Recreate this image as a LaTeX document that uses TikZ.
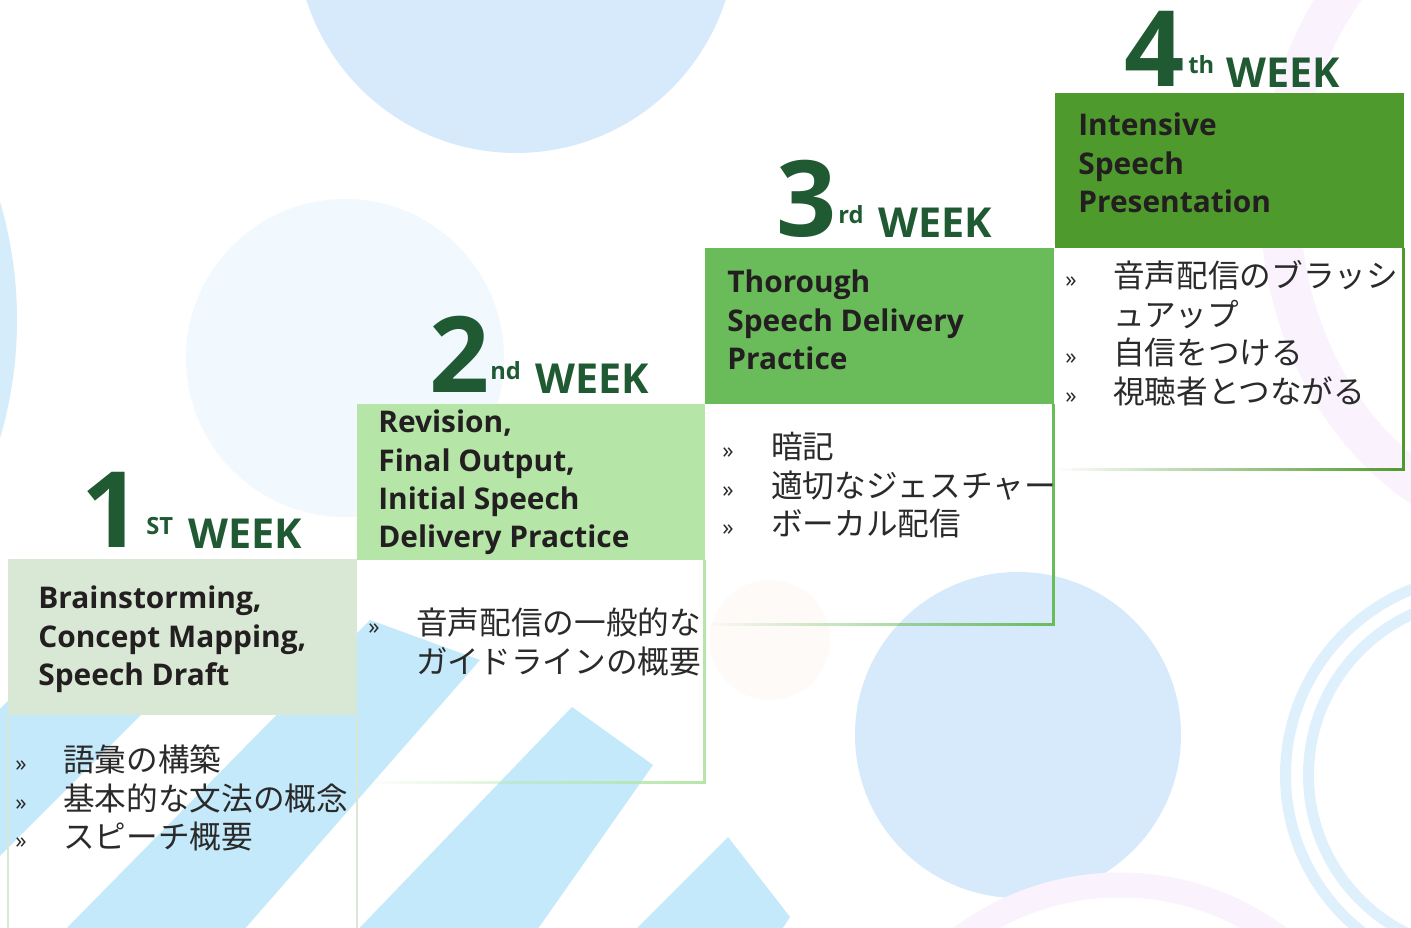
\documentclass[tikz,border=0pt]{standalone}
\usepackage{fontspec}
\usetikzlibrary{positioning,fadings}
\setmainfont{Open Sans}
\newfontfamily\jpfont{Noto Sans CJK JP}

\definecolor{weekgreen}{HTML}{1F5A33}
\definecolor{headA}{HTML}{D9E8D5}
\definecolor{headB}{HTML}{B5E6A8}
\definecolor{headC}{HTML}{6ABC5A}
\definecolor{headD}{HTML}{4E9A2C}
\definecolor{inkgray}{HTML}{231F20}
\definecolor{jpgray}{HTML}{2A2A2A}
\definecolor{bubble}{HTML}{D6EAFB}
\definecolor{paleblue}{HTML}{F1F8FE}
\definecolor{edgeblue}{HTML}{D5ECFA}
\definecolor{ringblue}{HTML}{DFF0FD}
\definecolor{stripe}{HTML}{C4E9FA}
\definecolor{lilac}{HTML}{FAF2FD}
\definecolor{peach}{HTML}{FEFAF7}

\tikzset{
  weeknum/.style={anchor=base,inner sep=0pt,text depth=0pt,text=weekgreen,font=\bfseries\fontsize{60}{60}\selectfont},
  weeksup/.style={anchor=base west,inner sep=0pt,text=weekgreen,font=\bfseries\fontsize{13.5}{14}\selectfont},
  weekword/.style={anchor=base west,inner sep=0pt,text=weekgreen,font=\bfseries\fontsize{23.5}{24}\selectfont},
  headline/.style={anchor=base west,inner sep=0pt,text=inkgray,font=\bfseries\fontsize{17}{20}\selectfont},
  bodyline/.style={anchor=base west,inner sep=0pt,text=jpgray,font=\jpfont\fontsize{18}{20}\selectfont},
  bulletmark/.style={anchor=base west,inner sep=0pt,text=jpgray,font=\fontsize{13}{14}\selectfont}
}

\newcommand{\weektitle}[7]{%
  \node[weeknum] (#1-num) at (#4,#5) {#2};
  \node[weeksup] (#1-sup) at (#6,#5-13) {#3};
  \node[weekword] (#1-word) at (#7,#5+1) {WEEK};}

\newcommand{\headlines}[4]{%
  \foreach \ln [count=\k] in {#4} {%
    \node[headline] (#1-\k) at (#2,{#3+38.3*(\k-1)}) {\ln};%
  }}

\newcommand{\bodylines}[5]{%
  \foreach \txt/\mk [count=\k] in {#5} {%
    \ifnum\mk=1
      \node[bulletmark] (#1-m\k) at (#2,{#4+38.5*(\k-1)}) {»};%
    \fi
    \node[bodyline] (#1-\k) at (#3,{#4+38.5*(\k-1)}) {\txt};%
  }}

\begin{document}
\begin{tikzpicture}[x=0.02cm,y=-0.02cm]
  \useasboundingbox (0,0) rectangle (1411,928);
  \fill[white] (0,0) rectangle (1411,928);

  \begin{scope}
    \clip (0,0) rectangle (1411,928);
    \fill[bubble] (516,-67) circle (220);
    \fill[paleblue] (345,358) circle (159);
    \fill[edgeblue] (-400,320) circle (417);
    \fill[bubble] (1018,735) circle (163);
    \fill[peach] (770,640) circle (60);
    \draw[lilac,line width=0.8cm] (1560,200) ellipse [x radius=280,y radius=330];
    \draw[lilac,line width=0.5cm] (1120,1150) circle (265);
    \draw[ringblue,line width=0.22cm] (1485,775) circle (199.5) (1485,775) circle (176.5);

    \fill[stripe] (89,620) -- (236,620) -- (-100,956) -- (-247,956) -- cycle;
    \fill[stripe] (370,620) -- (480,660) -- (235,940) -- (55,940) -- cycle;
    \fill[stripe] (572,707) -- (653,765) -- (530,940) -- (348,940) -- cycle;
    \fill[stripe] (728,837) -- (790,917) -- (775,940) -- (625,940) -- cycle;
  \end{scope}

  \fill[headA] (8,559) rectangle (357,715);
  \fill[headB] (357,404) rectangle (705,560);
  \fill[headC] (705,248) rectangle (1054,404);
  \fill[headD] (1055,93) rectangle (1404,248);

  \draw[headA,line width=0.05cm] (8,715) -- (8,928) (357,715) -- (357,928);
  \draw[headB,line width=0.06cm] (704,560) -- (704,784.5);
  \fill[headB,path fading=west] (357,781.5) rectangle (705.5,784.5);
  \draw[headC,line width=0.06cm] (1053,404) -- (1053,626.5);
  \fill[headC,path fading=west] (705,623.5) rectangle (1054.5,626.5);
  \draw[headD,line width=0.06cm] (1403,248) -- (1403,471.5);
  \fill[headD,path fading=west] (1055,468.5) rectangle (1404.5,471.5);

  \weektitle{w1}{1}{ST}{112}{548}{146}{188}
  \weektitle{w2}{2}{nd}{460}{393}{490}{535}
  \weektitle{w3}{3}{rd}{807}{237}{838}{878}
  \weektitle{w4}{4}{th}{1155}{87}{1188}{1226}

  \headlines{h1}{38}{609}{{Brainstorming,},{Concept Mapping,},{Speech Draft}}
  \headlines{h2}{378}{433}{{Revision,},{Final Output,},{Initial Speech},{Delivery Practice}}
  \headlines{h3}{727}{293}{Thorough,Speech Delivery,Practice}
  \headlines{h4}{1078}{136}{Intensive,Speech,Presentation}

  \bodylines{b1}{15}{63}{772}{語彙の構築/1,基本的な文法の概念/1,スピーチ概要/1}
  \bodylines{b2}{368}{416}{635}{音声配信の一般的な/1,ガイドラインの概要/0}
  \bodylines{b3}{722}{771}{459}{暗記/1,適切なジェスチャー/1,ボーカル配信/1}
  \bodylines{b4}{1065}{1113}{288}{音声配信のブラッシ/1,ュアップ/0,自信をつける/1,視聴者とつながる/1}
\end{tikzpicture}
\end{document}
